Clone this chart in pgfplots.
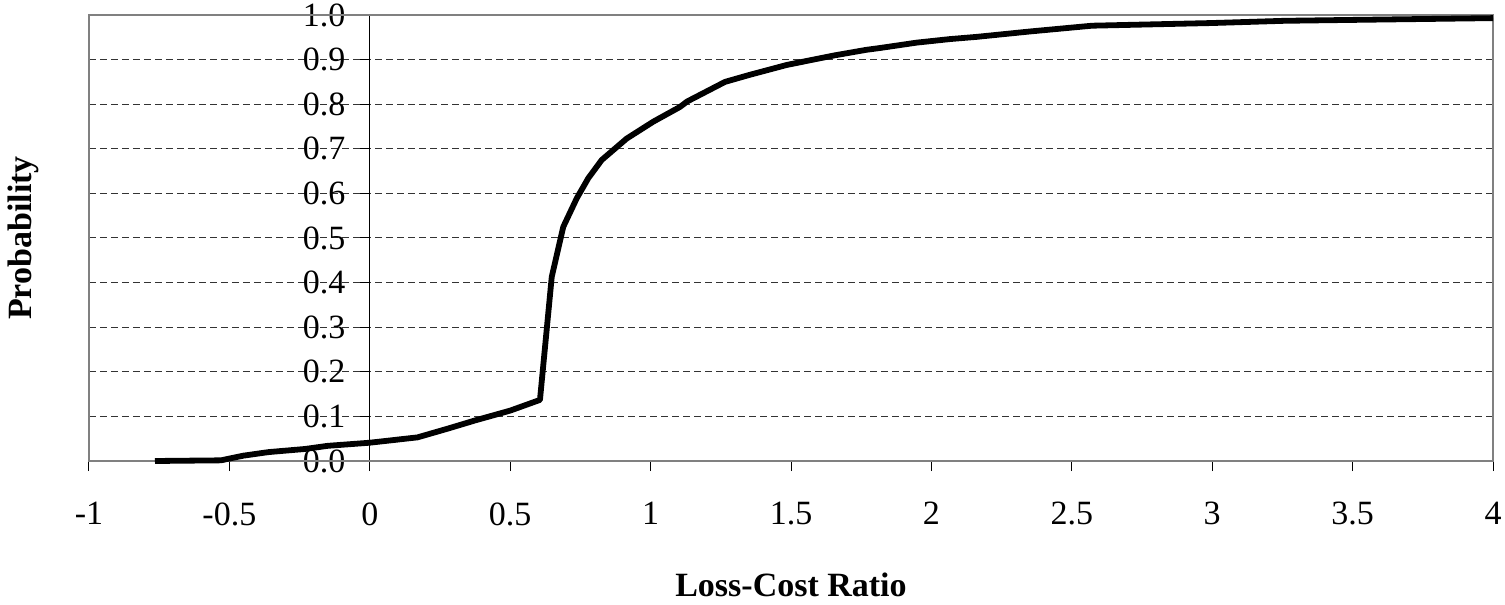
\documentclass[border=0pt]{standalone}
\usepackage{fontspec}
\setmainfont{Liberation Serif}
\usepackage{pgfplots}
\pgfplotsset{compat=1.18}
\begin{document}
\fontsize{17bp}{20bp}\selectfont
\begin{tikzpicture}
\begin{axis}[
  name=ax,
  at={(0,0)}, anchor=south west,
  scale only axis,
  width=702bp, height=223bp,
  xmin=-1, xmax=4, ymin=0, ymax=1,
  axis lines=middle,
  axis line style={-},
  x axis line style={black, line width=1bp},
  y axis line style={black, line width=0.5bp},
  clip=false,
  xtick={-1,-0.5,0,0.5,1,1.5,2,2.5,3,3.5,4},
  ytick={0,0.1,0.2,0.3,0.4,0.5,0.6,0.7,0.8,0.9,1.0},
  hide obscured x ticks=false, hide obscured y ticks=false,
  tick align=outside,
  major tick length=5bp,
  tick style={black, line width=0.5bp},
  ymajorgrids,
  grid style={black!80, line width=0.5bp, dash pattern=on 3.5bp off 2bp},
  yticklabel style={/pgf/number format/fixed, /pgf/number format/fixed zerofill, /pgf/number format/precision=1},
  /pgf/number format/assume math mode=true,
  ticklabel style={font=\fontsize{17bp}{20bp}\selectfont},
  xticklabel style={anchor=north, inner sep=0pt, yshift=-15.5bp},
  yticklabel style={anchor=east, inner sep=0pt, xshift=-7bp},
  xlabel={Loss-Cost Ratio},
  ylabel={Probability},
  every axis x label/.style={at={(rel axis cs:0.5,0)}, yshift=-62bp, anchor=center, font=\bfseries\fontsize{17bp}{20bp}\selectfont},
  every axis y label/.style={at={(rel axis cs:0,0.5)}, xshift=-32.75bp, rotate=90, anchor=center, font=\bfseries\fontsize{17bp}{20bp}\selectfont},
]
\draw[gray, line width=1.4bp] (rel axis cs:0,0) rectangle (rel axis cs:1,1);
\addplot[black, line width=2.9bp, line join=round, mark=none] coordinates {
(-0.765,0.000) (-0.53,0.0015) (-0.45,0.012) (-0.36,0.020) (-0.23,0.027)
(-0.15,0.034) (0.00,0.041) (0.17,0.053) (0.28,0.073) (0.375,0.091)
(0.50,0.113) (0.606,0.137) (0.648,0.413) (0.689,0.525) (0.737,0.589)
(0.778,0.634) (0.826,0.675) (0.915,0.723) (1.010,0.761) (1.105,0.794)
(1.13,0.806) (1.265,0.850) (1.354,0.866) (1.485,0.888) (1.651,0.909)
(1.769,0.922) (1.817,0.926) (1.947,0.938) (2.066,0.946) (2.162,0.951)
(2.35,0.963) (2.572,0.976) (3.0,0.982) (3.259,0.987) (3.5,0.989) (4.0,0.993)
};
\end{axis}
\pgfresetboundingbox
\useasboundingbox (-44.5bp,-72bp) rectangle (708bp,230.5bp);
\end{tikzpicture}
\end{document}
